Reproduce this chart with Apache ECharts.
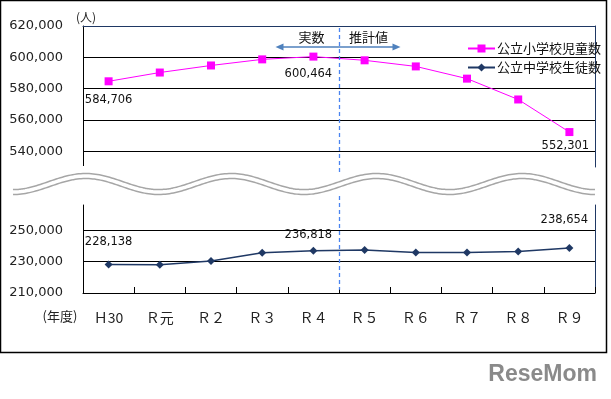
<!DOCTYPE html>
<html>
<head>
<meta charset="utf-8">
<script src="https://cdn.jsdelivr.net/npm/echarts@6/dist/echarts.min.js"></script>
<style>
  html, body { margin: 0; padding: 0; background: #fff; }
  #chart { width: 611px; height: 399px; }
</style>
</head>
<body>
<div id="chart"></div>
<script>
  // 年度
  const years = ['Ｈ30', 'Ｒ元', 'Ｒ２', 'Ｒ３', 'Ｒ４', 'Ｒ５', 'Ｒ６', 'Ｒ７', 'Ｒ８', 'Ｒ９']
  // 公立小学校児童数
  const elementary = [584706, 590300, 594800, 598700, 600464, 598100, 594200, 586400, 573100, 552301]
  // 公立中学校生徒数
  const juniorHigh = [228138, 228000, 230400, 235600, 236818, 237400, 235700, 235700, 236400, 238654]
  // 目盛
  const upperTicks = [540000, 560000, 580000, 600000, 620000]
  const lowerTicks = [210000, 230000, 250000]
  const labelled = [0, 4, 9]

  const fmt = v => v.toLocaleString('en-US')
  const numFont = 'DejaVu Sans'
  const jpFont = 'Noto Sans CJK JP'
  const navy = '#1f3864'

  // 各ラベルの位置 (見た目だけ)
  const elemLabel = {
    0: { position: 'bottom', distance: 9 },
    4: { position: 'bottom', distance: 7, offset: [-5, 0] },
    9: { position: 'bottom', distance: 4, offset: [-4, 0] }
  }
  const juniorLabel = {
    0: { position: 'top', distance: 12 },
    4: { position: 'top', distance: 6, offset: [-5, 0] },
    9: { position: 'top', distance: 18, offset: [-5, 0] }
  }

  const mkData = (values, cfg) => values.map((v, i) => labelled.includes(i)
    ? { value: v, label: Object.assign({ show: true, formatter: p => fmt(p.value) }, cfg[i]) }
    : v)

  const chart = echarts.init(document.getElementById('chart'))

  let option = {
    backgroundColor: '#fff',
    animation: false,
    legend: {
      orient: 'vertical',
      left: 467,
      top: 42,
      padding: 0,
      itemWidth: 27,
      itemHeight: 10,
      itemGap: 6,
      textStyle: { fontFamily: jpFont, fontSize: 13, color: '#111', padding: [0, 0, 0, -3] },
      data: ['公立小学校児童数', '公立中学校生徒数']
    },
    grid: [
      { left: 83, right: 16, top: 26, height: 141 },
      { left: 83, right: 16, top: 205, height: 88 }
    ],
    xAxis: [{
      gridIndex: 0,
      type: 'category',
      data: years,
      position: 'top',
      boundaryGap: true,
      axisLine: { show: true, lineStyle: { color: navy, width: 1 } },
      axisTick: { show: false },
      axisLabel: { show: false }
    }, {
      gridIndex: 1,
      type: 'category',
      data: years,
      boundaryGap: true,
      axisLine: { show: true, lineStyle: { color: '#000', width: 1 } },
      axisTick: { show: true, inside: true, length: 6, lineStyle: { color: '#000' } },
      axisLabel: { margin: 18, fontFamily: jpFont, fontSize: 14, color: '#222' }
    }],
    yAxis: [{
      gridIndex: 0,
      type: 'value',
      min: 530000,
      max: 620000,
      interval: 10000,
      name: '(人)',
      nameLocation: 'end',
      nameGap: 3,
      nameTextStyle: { fontFamily: jpFont, fontSize: 12, color: '#222', padding: [0, 0, 0, 6] },
      axisLine: { show: true, lineStyle: { color: '#000' } },
      axisTick: { show: false },
      axisLabel: {
        margin: 20,
        fontFamily: numFont,
        fontSize: 13,
        color: '#222',
        formatter: v => upperTicks.includes(v) ? fmt(v) : ''
      },
      splitLine: { show: true, lineStyle: { color: ['rgba(0,0,0,0)', '#000'], width: 1 } }
    }, {
      gridIndex: 0,
      type: 'value',
      position: 'right',
      min: 530000,
      max: 620000,
      axisLine: { show: true, lineStyle: { color: navy } },
      axisTick: { show: false },
      axisLabel: { show: false },
      splitLine: { show: false }
    }, {
      gridIndex: 1,
      type: 'value',
      min: 210000,
      max: 266000,
      interval: 20000,
      axisLine: { show: true, lineStyle: { color: '#000' } },
      axisTick: { show: false },
      axisLabel: {
        margin: 20,
        fontFamily: numFont,
        fontSize: 13,
        color: '#222',
        showMaxLabel: false,
        formatter: v => lowerTicks.includes(v) ? fmt(v) : ''
      },
      splitLine: { show: true, showMaxLine: false, lineStyle: { color: '#000', width: 1 } }
    }, {
      gridIndex: 1,
      type: 'value',
      position: 'right',
      min: 210000,
      max: 266000,
      axisLine: { show: true, lineStyle: { color: navy } },
      axisTick: { show: false },
      axisLabel: { show: false },
      splitLine: { show: false }
    }],
    series: [{
      name: '公立小学校児童数',
      type: 'line',
      xAxisIndex: 0,
      yAxisIndex: 0,
      symbol: 'rect',
      symbolSize: 8,
      itemStyle: { color: '#ff00ff' },
      lineStyle: { color: '#ff00ff', width: 1 },
      label: { fontFamily: numFont, fontSize: 11.5, color: '#111' },
      data: mkData(elementary, elemLabel),
      z: 5
    }, {
      name: '公立中学校生徒数',
      type: 'line',
      xAxisIndex: 1,
      yAxisIndex: 2,
      symbol: 'diamond',
      symbolSize: 8,
      itemStyle: { color: navy },
      lineStyle: { color: navy, width: 1.5 },
      label: { fontFamily: numFont, fontSize: 11.5, color: '#111' },
      data: mkData(juniorHigh, juniorLabel),
      z: 5
    }]
  }
  chart.setOption(option)

  // 実数/推計値の境目と飾り
  const pa = chart.convertToPixel({ gridIndex: 0 }, [4, 620000])
  const pb = chart.convertToPixel({ gridIndex: 0 }, [5, 620000])
  const pc = chart.convertToPixel({ gridIndex: 1 }, [4, 212000])
  const mx = Math.round((pa[0] + pb[0]) / 2) + 0.5
  const ay = pa[1] + 21

  const wave = []
  for (let x = 13; x <= 595; x += 2) {
    wave.push([x, 184 + 8 * Math.cos(2 * Math.PI * (x - 13) / 145.5)])
  }

  const arrowColor = '#4f81bd'
  chart.setOption({
    graphic: [
      { type: 'rect', shape: { x: 0.5, y: 0.5, width: 606, height: 352 }, style: { fill: 'none', stroke: '#000', lineWidth: 1.5 }, z: 1 },
      { type: 'line', shape: { x1: mx, y1: pa[1] + 2, x2: mx, y2: pc[1] }, style: { stroke: '#4a84f0', lineWidth: 1.3, lineDash: [4, 3] }, z: 9 },
      { type: 'polyline', shape: { points: wave }, style: { stroke: '#fff', lineWidth: 20, fill: 'none' }, z: 10 },
      { type: 'polyline', shape: { points: wave }, style: { stroke: '#a6a6a6', lineWidth: 6.5, fill: 'none' }, z: 11 },
      { type: 'polyline', shape: { points: wave }, style: { stroke: '#fff', lineWidth: 3.5, fill: 'none' }, z: 11 },
      { type: 'line', shape: { x1: mx - 60, y1: ay, x2: mx + 56, y2: ay }, style: { stroke: arrowColor, lineWidth: 1.5 }, z: 12 },
      { type: 'polygon', shape: { points: [[mx - 64, ay], [mx - 56, ay - 3.5], [mx - 56, ay + 3.5]] }, style: { fill: arrowColor }, z: 12 },
      { type: 'polygon', shape: { points: [[mx + 61, ay], [mx + 53, ay - 3.5], [mx + 53, ay + 3.5]] }, style: { fill: arrowColor }, z: 12 },
      { type: 'text', x: mx - 28, y: ay - 10, style: { text: '実数', font: '13px "Noto Sans CJK JP"', fill: '#111', align: 'center', verticalAlign: 'middle' }, z: 12 },
      { type: 'text', x: mx + 29, y: ay - 10, style: { text: '推計値', font: '13px "Noto Sans CJK JP"', fill: '#111', align: 'center', verticalAlign: 'middle' }, z: 12 },
      { type: 'text', x: 60, y: pc[1] + 26, style: { text: '(年度)', font: '13px "Noto Sans CJK JP"', fill: '#222', align: 'center', verticalAlign: 'middle' }, z: 12 },
      { type: 'text', x: 597, y: 375, style: { text: 'ReseMom', font: 'bold 23px "Liberation Sans"', fill: '#8a8a8a', align: 'right', verticalAlign: 'middle' }, z: 12 }
    ]
  })
</script>
</body>
</html>
